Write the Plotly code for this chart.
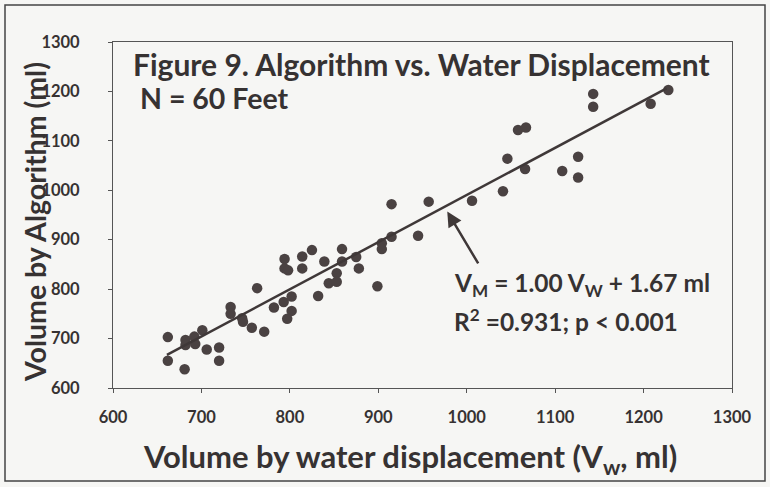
import plotly.graph_objects as go

# Data (ml)
x_water = [662, 662, 681, 682, 682, 692, 693, 701, 706, 720, 720, 733, 733, 746, 747,
           757, 771, 763, 782, 793, 802, 802, 797, 794, 794, 798, 814, 814, 825, 832,
           839, 844, 853, 853, 859, 859, 875, 878, 899, 904, 904, 915, 915, 945, 957,
           1006, 1041, 1046, 1058, 1067, 1066, 1108, 1126, 1126, 1143, 1143, 1208, 1228]
y_algorithm = [703, 655, 638, 697, 687, 704, 689, 717, 678, 682, 655, 764, 750, 741, 734,
               722, 714, 802, 763, 774, 785, 756, 740, 861, 842, 838, 866, 842, 879, 786,
               856, 812, 832, 815, 881, 856, 865, 842, 806, 893, 881, 906, 972, 908, 977,
               979, 998, 1064, 1122, 1127, 1043, 1039, 1068, 1026, 1195, 1169, 1175, 1203]

fit_x = [661, 1226]
fit_y = [667, 1206]

x_ticks = [600, 700, 800, 900, 1000, 1100, 1200, 1300]
y_ticks = [600, 700, 800, 900, 1000, 1100, 1200, 1300]

title_text = "Figure 9. Algorithm vs. Water Displacement"
n_text = "N = 60 Feet"
eq_text = "V<sub>M</sub> = 1.00 V<sub>W</sub> + 1.67 ml"
r2_text = "R<sup>2</sup> =0.931; p < 0.001"
x_title = "Volume by water displacement (V<sub>w</sub>, ml)"
y_title = "Volume by Algorithm (ml)"

FONT = "Lato"
TXT = "#363232"
INK = "#3f3838"
CLEAR = "rgba(0,0,0,0)"

fig = go.Figure()
fig.add_trace(go.Scatter(x=fit_x, y=fit_y, mode="lines", xaxis="x2", yaxis="y2",
                         line=dict(color=INK, width=2.5), hoverinfo="skip"))
fig.add_trace(go.Scatter(x=x_water, y=y_algorithm, mode="markers",
                         marker=dict(size=10.5, color="#4a4242")))

L, R, T, B = 113, 38, 42, 99
W, H = 770, 487
pw, ph = W - L - R, H - T - B

def px(x):
    return (x - L) / pw

def py(y):
    return (H - B - y) / ph

tickfont = dict(family=FONT, size=16.5, weight="bold", color=TXT)

fig.update_layout(
    width=W, height=H,
    margin=dict(l=L, r=R, t=T, b=B),
    paper_bgcolor="#f6f6f4", plot_bgcolor="#f6f6f4",
    showlegend=False,
    font=dict(family=FONT, color=TXT),
    # label-bearing axes (long, invisible ticks push the labels away from the frame)
    xaxis=dict(range=[600, 1300], tickvals=x_ticks, ticks="outside", ticklen=14,
               tickcolor=CLEAR, showgrid=False, zeroline=False, showline=True,
               linecolor="#555", linewidth=1, mirror=True, tickfont=tickfont),
    yaxis=dict(range=[600, 1300], tickvals=y_ticks, ticks="outside", ticklen=29,
               tickcolor=CLEAR, showgrid=False, zeroline=False, showline=True,
               linecolor="#555", linewidth=1, mirror=True, tickfont=tickfont),
    # overlay axes that draw the short visible tick marks
    xaxis2=dict(range=[600, 1300], tickvals=x_ticks, ticks="outside", ticklen=4,
                tickcolor="#555", showticklabels=False, showgrid=False, zeroline=False,
                showline=False, overlaying="x", anchor="y2", side="bottom"),
    yaxis2=dict(range=[600, 1300], tickvals=y_ticks, ticks="outside", ticklen=4,
                tickcolor="#555", showticklabels=False, showgrid=False, zeroline=False,
                showline=False, overlaying="y", anchor="x2", side="left"),
)

ann = [
    dict(text=title_text, x=px(131), y=py(64), size=30),
    dict(text=n_text, x=px(138), y=py(98), size=28.5),
    dict(text=eq_text, x=px(452), y=py(284), size=24.5),
    dict(text=r2_text, x=px(452), y=py(320), size=24.5),
]
for a in ann:
    fig.add_annotation(text=a["text"], x=a["x"], y=a["y"], xref="paper", yref="paper",
                       xanchor="left", yanchor="middle", showarrow=False,
                       font=dict(family=FONT, size=a["size"], weight="bold", color=TXT))

fig.add_annotation(text=x_title, x=px(410), y=py(458), xref="paper", yref="paper",
                   xanchor="center", yanchor="middle", showarrow=False,
                   font=dict(family=FONT, size=31, weight="bold", color=TXT))
fig.add_annotation(text=y_title, x=px(35), y=py(222), xref="paper", yref="paper",
                   xanchor="center", yanchor="middle", showarrow=False, textangle=-90,
                   font=dict(family=FONT, size=28.5, weight="bold", color=TXT))

# arrow pointing at the regression line
fig.add_annotation(x=978, y=957, ax=1014, ay=849, xref="x", yref="y", axref="x", ayref="y",
                   text="", showarrow=True, arrowhead=2, arrowsize=1.2, arrowwidth=2.5,
                   arrowcolor=INK)

# outer chart border
fig.add_shape(type="rect", xref="paper", yref="paper",
              x0=px(5), x1=px(765), y0=py(481), y1=py(5),
              line=dict(color="#444", width=1.5), fillcolor=CLEAR, layer="below")

fig.write_html("out.html", config={"displayModeBar": False},
               post_script="document.body.style.margin='0';")
